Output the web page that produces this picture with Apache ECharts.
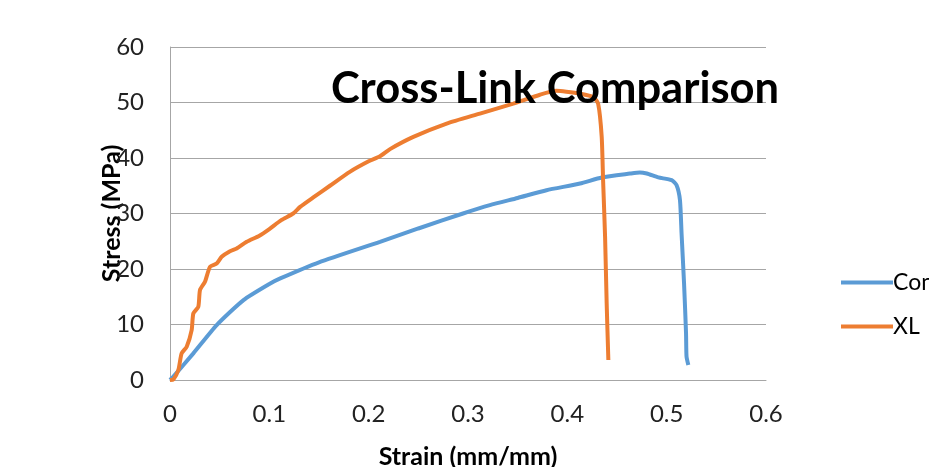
<!DOCTYPE html>
<html>
<head>
<meta charset="utf-8">
<script src="https://cdn.jsdelivr.net/npm/echarts@6/dist/echarts.min.js"></script>
<style>html,body{margin:0;padding:0;background:#fff;overflow:hidden}#c{width:929px;height:467px}</style>
</head>
<body>
<div id="c"></div>
<script>
const titleText = "Cross-Link Comparison";
const xAxisTitle = "Strain (mm/mm)";
const yAxisTitle = "Stress (MPa)";
const seriesNames = ["Control", "XL"];

const controlStrain = [0, 0.0034, 0.0235, 0.047, 0.074, 0.1, 0.111, 0.15, 0.2114, 0.25, 0.295, 0.322, 0.35, 0.379, 0.4128, 0.4346, 0.463, 0.473, 0.48, 0.4916, 0.505, 0.51, 0.5134, 0.515, 0.5175, 0.5195, 0.52, 0.5218];
const controlStress = [0, 0.6, 4.8, 9.9, 14.4, 17.3, 18.3, 21.2, 24.9, 27.3, 30.0, 31.5, 32.8, 34.2, 35.4, 36.5, 37.2, 37.4, 37.2, 36.5, 36.0, 35.1, 32.4, 26.4, 17.4, 8.4, 4.2, 2.7];

const xlStrain = [0, 0.0034, 0.0084, 0.0117, 0.0168, 0.0218, 0.0235, 0.0285, 0.0302, 0.0352, 0.0403, 0.047, 0.052, 0.0604, 0.0671, 0.0772, 0.09, 0.1, 0.112, 0.124, 0.131, 0.145, 0.161, 0.181, 0.2, 0.2114, 0.2215, 0.245, 0.2785, 0.312, 0.3456, 0.3725, 0.389, 0.399, 0.4128, 0.426, 0.431, 0.4346, 0.436, 0.438, 0.4396, 0.4413];
const xlStress = [0, 0.1, 1.8, 4.8, 6.0, 9.0, 12.0, 13.2, 16.2, 17.7, 20.4, 21.0, 22.2, 23.2, 23.7, 24.9, 26.0, 27.2, 28.8, 30.0, 31.2, 33.0, 35.0, 37.5, 39.4, 40.3, 41.6, 43.8, 46.2, 48.0, 49.8, 51.4, 52.1, 51.95, 51.6, 51.0, 49.8, 43.8, 36.0, 25.8, 13.8, 3.6];

const pair = (xs, ys) => xs.map((x, i) => [x, ys[i]]);
const FONT = 'Lato';
const chart = echarts.init(document.getElementById('c'), null, {renderer: 'canvas'});
chart.setOption({
  animation: false,
  backgroundColor: '#fff',
  textStyle: {fontFamily: FONT},
  title: {
    text: titleText,
    left: 550, top: 62, textAlign: 'center',
    z: 10,
    textStyle: {fontFamily: FONT, fontWeight: 'bold', fontSize: 43.5, color: '#000'}
  },
  legend: {
    orient: 'vertical', left: 836, top: 266,
    icon: 'rect',
    itemWidth: 52, itemHeight: 4, itemGap: 21,
    textStyle: {fontFamily: FONT, fontSize: 23, color: '#000', padding: [0, 0, 0, -5]},
    data: seriesNames
  },
  grid: {left: 170, right: 163, top: 47, bottom: 87, containLabel: false, outerBoundsMode: 'none'},
  xAxis: {
    type: 'value', min: 0, max: 0.6, interval: 0.1,
    name: xAxisTitle, nameLocation: 'middle', nameGap: 64, nameMoveOverlap: false,
    nameTextStyle: {fontFamily: FONT, fontWeight: 'bold', fontSize: 25, color: '#000'},
    axisLine: {show: true, lineStyle: {color: '#a6a6a6', width: 1}},
    axisTick: {show: false},
    splitLine: {show: false},
    axisLabel: {fontFamily: FONT, fontSize: 24, color: '#222', margin: 22}
  },
  yAxis: {
    type: 'value', min: 0, max: 60, interval: 10,
    name: yAxisTitle, nameLocation: 'middle', nameGap: 46, nameRotate: 90, nameMoveOverlap: false,
    nameTextStyle: {fontFamily: FONT, fontWeight: 'bold', fontSize: 25, color: '#000'},
    axisLine: {show: true, lineStyle: {color: '#a6a6a6', width: 1}},
    axisTick: {show: false},
    splitLine: {show: true, lineStyle: {color: '#a6a6a6', width: 1}},
    axisLabel: {fontFamily: FONT, fontSize: 24, color: '#222', margin: 26}
  },
  series: [
    {name: seriesNames[0], type: 'line', data: pair(controlStrain, controlStress), symbol: 'none', smooth: 0.2,
     lineStyle: {color: '#5b9bd5', width: 4}, itemStyle: {color: '#5b9bd5'}},
    {name: seriesNames[1], type: 'line', data: pair(xlStrain, xlStress), symbol: 'none', smooth: 0.2,
     lineStyle: {color: '#ed7d31', width: 4}, itemStyle: {color: '#ed7d31'}}
  ]
});
</script>
</body>
</html>
